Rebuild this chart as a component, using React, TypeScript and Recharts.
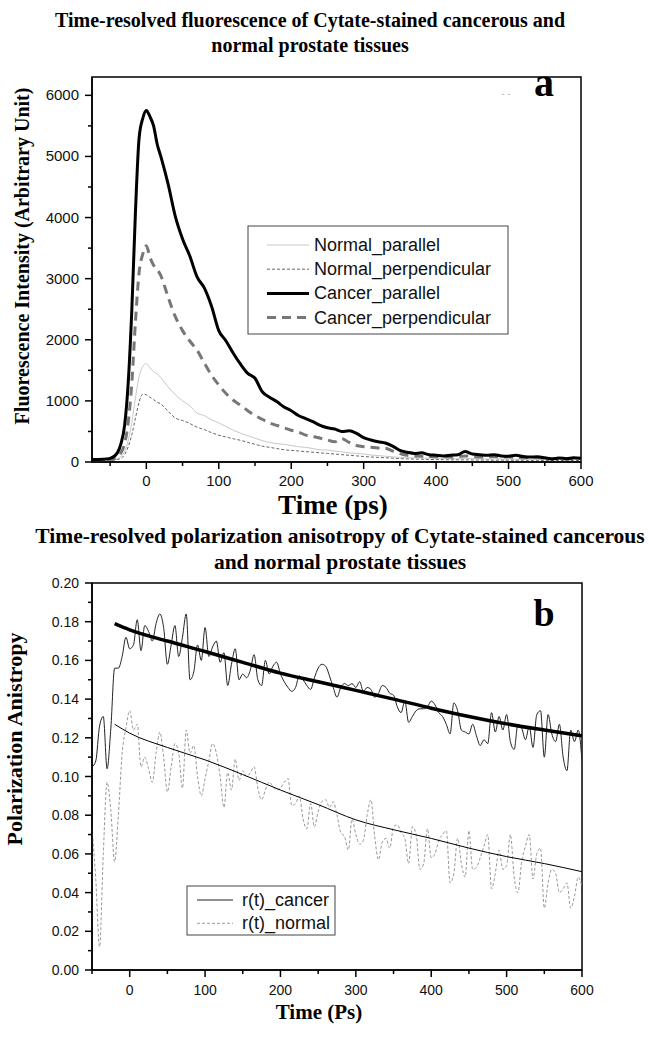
import React from "react";
import { LineChart, Line, XAxis, YAxis, ReferenceArea } from "recharts";

const SERIF = '"Liberation Serif", "Times New Roman", serif';
const SANS = '"Liberation Sans", Arial, sans-serif';

// ---- panel a: fluorescence decay ----
const timeA = [
  -75, -60, -50, -40, -35, -30, -25, -20, -15, -10, -5, 0, 5, 10, 15, 20,
  30, 40, 50, 60, 70, 80, 90, 100, 110, 120, 130, 140, 150, 160, 170, 180,
  190, 200, 210, 220, 230, 240, 250, 260, 270, 280, 290, 300, 310, 320, 330,
  340, 350, 360, 370, 380, 390, 400, 410, 420, 430, 440, 450, 460, 470, 480,
  490, 500, 510, 520, 530, 540, 550, 560, 570, 580, 590, 600,
];
const normalParallel = [
  20, 25, 30, 50, 90, 170, 350, 650, 1050, 1400, 1560, 1610, 1540, 1480, 1440, 1380,
  1230, 1100, 1000, 920, 800, 760, 690, 640, 580, 520, 470, 430, 390, 350, 320, 300,
  290, 270, 250, 240, 220, 200, 195, 180, 165, 150, 140, 130, 115, 105, 95,
  85, 75, 70, 68, 65, 62, 60, 58, 55, 55, 60, 55, 52, 50, 52,
  50, 48, 48, 45, 46, 45, 42, 40, 42, 40, 42, 40,
];
const normalPerpendicular = [
  15, 20, 25, 40, 60, 120, 250, 450, 720, 980, 1110, 1100, 1060, 1020, 980, 950,
  830, 720, 680, 630, 570, 530, 480, 440, 410, 380, 355, 320, 290, 260, 240, 220,
  200, 190, 180, 170, 160, 150, 140, 130, 120, 110, 100, 90, 82, 75, 70,
  62, 55, 50, 48, 45, 42, 40, 38, 36, 35, 35, 34, 32, 32, 30,
  30, 30, 28, 28, 27, 27, 26, 25, 25, 25, 25, 24,
];
const cancerParallel = [
  40, 45, 60, 150, 300, 600, 1300, 2500, 4100, 5300, 5620, 5750, 5650, 5500, 5200, 5000,
  4550, 4020, 3650, 3370, 3030, 2850, 2550, 2150, 1980, 1780, 1600, 1450, 1370, 1150, 1060, 990,
  900, 840, 760, 710, 660, 600, 560, 540, 500, 510, 470, 400, 360, 330, 310,
  260, 190, 160, 140, 150, 120, 110, 100, 110, 120, 170, 130, 120, 110, 120,
  100, 95, 110, 90, 80, 85, 70, 50, 65, 55, 70, 60,
];
const cancerPerpendicular = [
  30, 35, 40, 80, 150, 300, 650, 1300, 2300, 3100, 3400, 3540, 3350, 3220, 3150, 3050,
  2700, 2380, 2150, 1980, 1830, 1620, 1420, 1260, 1120, 1010, 930, 840, 760, 700, 640, 600,
  560, 520, 490, 440, 420, 390, 360, 330, 380, 320, 270, 250, 240, 230, 225,
  180, 140, 110, 100, 95, 90, 85, 90, 80, 85, 100, 90, 80, 85, 90,
  80, 85, 75, 70, 80, 75, 60, 55, 60, 50, 60, 55,
];
const xTicksA = [-50, 0, 50, 100, 150, 200, 250, 300, 350, 400, 450, 500, 550, 600];
const yTicksA = [0, 500, 1000, 1500, 2000, 2500, 3000, 3500, 4000, 4500, 5000, 5500, 6000];

// ---- panel b: anisotropy ----
const rCancer = [
  0.105, 0.108, 0.126, 0.131, 0.104, 0.125, 0.156, 0.156, 0.162, 0.172,
  0.166, 0.168, 0.181, 0.165, 0.178, 0.175, 0.170, 0.179, 0.184, 0.177,
  0.158, 0.168, 0.178, 0.162, 0.172, 0.184, 0.150, 0.154, 0.168, 0.160,
  0.177, 0.162, 0.167, 0.170, 0.159, 0.164, 0.147, 0.158, 0.166, 0.150,
  0.153, 0.151, 0.155, 0.163, 0.150, 0.147, 0.160, 0.153, 0.157, 0.159,
  0.153, 0.149, 0.146, 0.144, 0.146, 0.152, 0.150, 0.147, 0.145, 0.151,
  0.156, 0.158, 0.157, 0.152, 0.146, 0.141, 0.146, 0.148, 0.147, 0.148,
  0.146, 0.149, 0.144, 0.146, 0.145, 0.141, 0.143, 0.147, 0.146, 0.143,
  0.142, 0.136, 0.133, 0.139, 0.128, 0.131, 0.134, 0.135, 0.135, 0.136,
  0.139, 0.137, 0.133, 0.131, 0.127, 0.122, 0.138, 0.134, 0.124, 0.123,
  0.122, 0.127, 0.121, 0.116, 0.119, 0.117, 0.133, 0.123, 0.131, 0.124,
  0.132, 0.118, 0.114, 0.127, 0.125, 0.119, 0.126, 0.115, 0.132, 0.134,
  0.110, 0.132, 0.122, 0.118, 0.127, 0.110, 0.103, 0.124, 0.118, 0.124,
  0.108,
];
const rNormal = [
  0.073, 0.047, 0.012, 0.060, 0.097, 0.082, 0.056, 0.080, 0.112, 0.125,
  0.134, 0.124, 0.127, 0.105, 0.110, 0.104, 0.097, 0.112, 0.123, 0.110,
  0.092, 0.105, 0.117, 0.112, 0.094, 0.124, 0.112, 0.116, 0.100, 0.090,
  0.099, 0.108, 0.117, 0.112, 0.100, 0.084, 0.102, 0.093, 0.109, 0.098,
  0.103, 0.100, 0.102, 0.105, 0.094, 0.088, 0.093, 0.097, 0.095, 0.093,
  0.094, 0.097, 0.099, 0.085, 0.086, 0.090, 0.078, 0.073, 0.086, 0.074,
  0.082, 0.087, 0.088, 0.084, 0.087, 0.080, 0.071, 0.069, 0.062, 0.078,
  0.070, 0.065, 0.067, 0.080, 0.088, 0.069, 0.057, 0.066, 0.068, 0.063,
  0.074, 0.075, 0.071, 0.068, 0.055, 0.074, 0.070, 0.052, 0.055, 0.073,
  0.058, 0.060, 0.067, 0.070, 0.072, 0.045, 0.050, 0.068, 0.055, 0.048,
  0.072, 0.052, 0.053, 0.058, 0.064, 0.070, 0.042, 0.050, 0.062, 0.052,
  0.054, 0.070, 0.048, 0.040, 0.056, 0.064, 0.070, 0.047, 0.060, 0.063,
  0.032, 0.045, 0.052, 0.050, 0.040, 0.042, 0.045, 0.032, 0.038, 0.048,
  0.043,
];
const fitTime = [-20, 0, 50, 100, 150, 200, 250, 300, 350, 400, 450, 500, 550, 600];
const cancerFit = [0.179, 0.1758, 0.17, 0.1646, 0.159, 0.1534, 0.149, 0.1445, 0.14, 0.1353, 0.131, 0.1272, 0.124, 0.121];
const normalFit = [0.127, 0.1224, 0.115, 0.1086, 0.101, 0.093, 0.0855, 0.0776, 0.0725, 0.068, 0.063, 0.0586, 0.055, 0.0508];
const xTicksB = [-50, 0, 50, 100, 150, 200, 250, 300, 350, 400, 450, 500, 550, 600];
const yTicksB = [
  0, 0.01, 0.02, 0.03, 0.04, 0.05, 0.06, 0.07, 0.08, 0.09, 0.1,
  0.11, 0.12, 0.13, 0.14, 0.15, 0.16, 0.17, 0.18, 0.19, 0.2,
];

const topRows = timeA.map((t, i) => ({
  t,
  np: normalParallel[i],
  nq: normalPerpendicular[i],
  cp: cancerParallel[i],
  cq: cancerPerpendicular[i],
}));
const timeB = rCancer.map((_, i) => -50 + i * 5);
const cancerRows = timeB.map((t, i) => ({ t, v: rCancer[i] }));
const normalRows = timeB.map((t, i) => ({ t, v: rNormal[i] }));
const fitRows = fitTime.map((t, i) => ({ t, c: cancerFit[i], n: normalFit[i] }));

function makeXTick(isMajor: (v: number) => boolean, fontSize: number, dy: number) {
  return (p: any) => {
    const v = p.payload.value;
    const major = isMajor(v);
    return (
      <g>
        <line x1={p.x} x2={p.x} y1={p.y} y2={p.y + (major ? 7 : 4)} stroke="#000" strokeWidth={1.5} />
        {major && (
          <text x={p.x} y={p.y + dy} textAnchor="middle" fontSize={fontSize} fontFamily={SANS} fill="#111">
            {v}
          </text>
        )}
      </g>
    );
  };
}

function makeYTick(isMajor: (v: number) => boolean, fmt: (v: number) => string, fontSize: number) {
  return (p: any) => {
    const v = p.payload.value;
    const major = isMajor(v);
    return (
      <g>
        <line x1={p.x - (major ? 7 : 4)} x2={p.x} y1={p.y} y2={p.y} stroke="#000" strokeWidth={1.5} />
        {major && (
          <text x={p.x - 13} y={p.y + 5} textAnchor="end" fontSize={fontSize} fontFamily={SANS} fill="#111">
            {fmt(v)}
          </text>
        )}
      </g>
    );
  };
}

const AXIS_LINE = { stroke: "#000", strokeWidth: 1.5 };

const legendA = [
  { name: "Normal_parallel", color: "#c8c8c8", width: 1, dash: undefined },
  { name: "Normal_perpendicular", color: "#666", width: 1, dash: "3 2" },
  { name: "Cancer_parallel", color: "#000", width: 3, dash: undefined },
  { name: "Cancer_perpendicular", color: "#777", width: 3, dash: "9 6" },
];
const legendB = [
  { name: "r(t)_cancer", color: "#222", width: 1, dash: undefined },
  { name: "r(t)_normal", color: "#999", width: 1, dash: "3 2" },
];

function Overlay() {
  return (
    <svg width={649} height={1038} style={{ position: "absolute", left: 0, top: 0, pointerEvents: "none" }}>
      <g fontFamily={SERIF} fontWeight="bold" fill="#000">
        <text x={310} y={27} fontSize={20} textAnchor="middle">
          Time-resolved fluorescence of Cytate-stained cancerous and
        </text>
        <text x={310} y={52} fontSize={20} textAnchor="middle">
          normal prostate tissues
        </text>
        <text x={333} y={514} fontSize={27} textAnchor="middle">Time (ps)</text>
        <text transform="translate(29,256) rotate(-90)" fontSize={20} textAnchor="middle">
          Fluorescence Intensity (Arbitrary Unit)
        </text>
        <text x={544} y={96} fontSize={40} textAnchor="middle">a</text>

        <text x={340} y={543} fontSize={21.5} textAnchor="middle">
          Time-resolved polarization anisotropy of Cytate-stained cancerous
        </text>
        <text x={340} y={569} fontSize={21.5} textAnchor="middle">
          and normal prostate tissues
        </text>
        <text x={319} y={1019} fontSize={21} textAnchor="middle">Time (Ps)</text>
        <text transform="translate(22,739) rotate(-90)" fontSize={22} textAnchor="middle">
          Polarization Anistropy
        </text>
        <text x={544} y={626} fontSize={38} textAnchor="middle">b</text>
      </g>
      <text x={506} y={97} fontSize={10} fill="#bbb" textAnchor="middle" fontFamily={SANS}>- -</text>

      <rect x={248} y={226} width={260} height={108} fill="#fff" stroke="#444" strokeWidth={1} />
      {legendA.map((d, i) => {
        const y = 245 + i * 24.2;
        return (
          <g key={d.name}>
            <line x1={267} x2={309} y1={y} y2={y} stroke={d.color} strokeWidth={d.width} strokeDasharray={d.dash} />
            <text x={314} y={y + 6} fontSize={18} fontFamily={SANS} fill="#111">{d.name}</text>
          </g>
        );
      })}

      <rect x={187} y={886} width={148} height={49} fill="#fff" stroke="#444" strokeWidth={1} />
      {legendB.map((d, i) => {
        const y = 900 + i * 23.3;
        return (
          <g key={d.name}>
            <line x1={197} x2={233} y1={y} y2={y} stroke={d.color} strokeWidth={d.width} strokeDasharray={d.dash} />
            <text x={242} y={y + 6} fontSize={18} fontFamily={SANS} fill="#111">{d.name}</text>
          </g>
        );
      })}
    </svg>
  );
}

export default function App() {
  return (
    <div style={{ position: "absolute", left: 0, top: 0, width: 649, height: 1038, overflow: "hidden", background: "#fff" }}>
      <div style={{ position: "absolute", left: 0, top: 0 }}>
        <LineChart width={649} height={500} data={topRows} margin={{ top: 77, right: 68, bottom: 0, left: 0 }}>
          <XAxis
            dataKey="t"
            type="number"
            domain={[-75, 600]}
            ticks={xTicksA}
            interval={0}
            tickSize={0}
            tickMargin={0}
            tickLine={false}
            axisLine={AXIS_LINE}
            height={38}
            allowDataOverflow
            tick={makeXTick((v) => Math.round(v) % 100 === 0, 15, 24)}
          />
          <YAxis
            type="number"
            domain={[0, 6300]}
            ticks={yTicksA}
            interval={0}
            tickSize={0}
            tickMargin={0}
            tickLine={false}
            axisLine={AXIS_LINE}
            width={92}
            allowDataOverflow
            tick={makeYTick((v) => Math.round(v) % 1000 === 0, (v) => String(v), 15)}
          />
          <ReferenceArea x1={-75} x2={600} y1={0} y2={6300} fill="none" stroke="#000" strokeWidth={1.5} />
          <Line type="monotone" dataKey="np" stroke="#c8c8c8" strokeWidth={1} dot={false} isAnimationActive={false} />
          <Line type="monotone" dataKey="nq" stroke="#666" strokeWidth={1} strokeDasharray="3 2" dot={false} isAnimationActive={false} />
          <Line type="monotone" dataKey="cq" stroke="#777" strokeWidth={3} strokeDasharray="9 6" dot={false} isAnimationActive={false} />
          <Line type="monotone" dataKey="cp" stroke="#000" strokeWidth={3} dot={false} isAnimationActive={false} />
        </LineChart>
      </div>
      <div style={{ position: "absolute", left: 0, top: 520 }}>
        <LineChart width={649} height={500} margin={{ top: 63, right: 67, bottom: 10, left: 0 }}>
          <XAxis
            dataKey="t"
            type="number"
            domain={[-50, 600]}
            ticks={xTicksB}
            interval={0}
            tickSize={0}
            tickMargin={0}
            tickLine={false}
            axisLine={AXIS_LINE}
            height={40}
            allowDataOverflow
            tick={makeXTick((v) => Math.round(v) % 100 === 0, 14, 25)}
          />
          <YAxis
            type="number"
            domain={[0, 0.2]}
            ticks={yTicksB}
            interval={0}
            tickSize={0}
            tickMargin={0}
            tickLine={false}
            axisLine={AXIS_LINE}
            width={92}
            allowDataOverflow
            tick={makeYTick((v) => Math.round(v * 100) % 2 === 0, (v) => v.toFixed(2), 14)}
          />
          <ReferenceArea x1={-50} x2={600} y1={0} y2={0.2} fill="none" stroke="#000" strokeWidth={1.5} />
          <Line data={normalRows} type="monotone" dataKey="v" stroke="#999" strokeWidth={1} strokeDasharray="3 2" dot={false} isAnimationActive={false} />
          <Line data={fitRows} type="monotone" dataKey="n" stroke="#000" strokeWidth={1} dot={false} isAnimationActive={false} />
          <Line data={cancerRows} type="monotone" dataKey="v" stroke="#222" strokeWidth={1} dot={false} isAnimationActive={false} />
          <Line data={fitRows} type="monotone" dataKey="c" stroke="#000" strokeWidth={3.5} dot={false} isAnimationActive={false} />
        </LineChart>
      </div>
      <Overlay />
    </div>
  );
}
